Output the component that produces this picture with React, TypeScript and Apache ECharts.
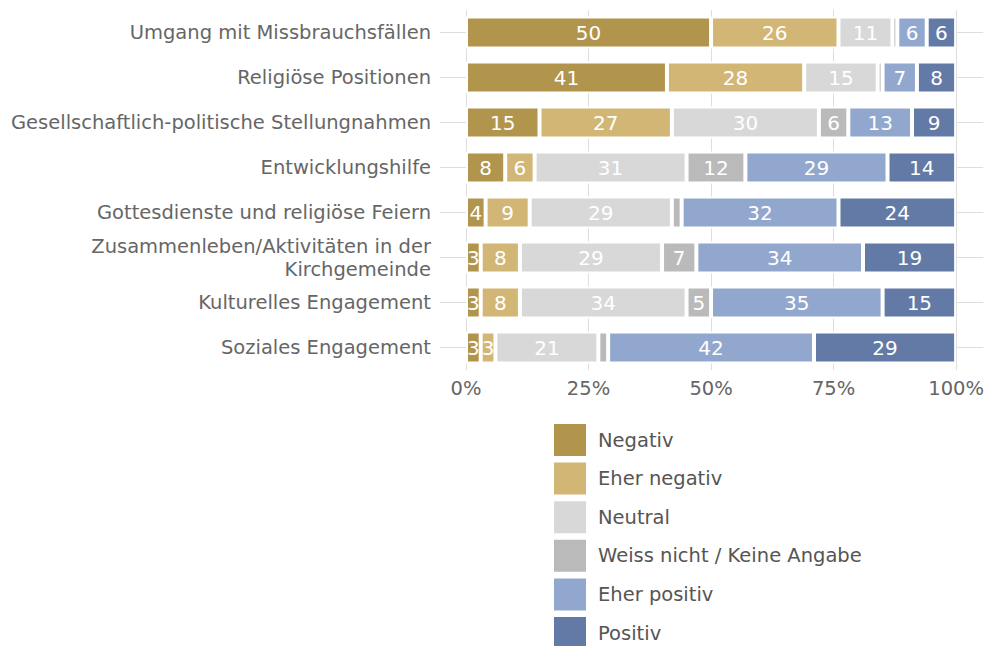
import React, { useEffect, useRef } from "react";
import * as echarts from "echarts";

const categories = [
  "Umgang mit Missbrauchsfällen",
  "Religiöse Positionen",
  "Gesellschaftlich-politische Stellungnahmen",
  "Entwicklungshilfe",
  "Gottesdienste und religiöse Feiern",
  "Zusammenleben/Aktivitäten in der\nKirchgemeinde",
  "Kulturelles Engagement",
  "Soziales Engagement",
];

const seriesNames = [
  "Negativ",
  "Eher negativ",
  "Neutral",
  "Weiss nicht / Keine Angabe",
  "Eher positiv",
  "Positiv",
];

const negativ = [50, 41, 15, 8, 4, 3, 3, 3];
const eherNegativ = [26, 28, 27, 6, 9, 8, 8, 3];
const neutral = [11, 15, 30, 31, 29, 29, 34, 21];
const weissNicht = [1, 1, 6, 12, 2, 7, 5, 2];
const eherPositiv = [6, 7, 13, 29, 32, 34, 35, 42];
const positiv = [6, 8, 9, 14, 24, 19, 15, 29];

const xTicks = [0, 25, 50, 75, 100];

const colors = ["#B2954C", "#D2B675", "#D8D8D8", "#BABABA", "#92A7CD", "#627AA5"];

const FONT = "DejaVu Sans";

export default function App() {
  const ref = useRef<HTMLDivElement>(null);
  useEffect(() => {
    if (!ref.current) return;
    const chart = echarts.init(ref.current, undefined, { renderer: "svg" });
    const values = [negativ, eherNegativ, neutral, weissNicht, eherPositiv, positiv];
    chart.setOption({
      animation: false,
      textStyle: { fontFamily: FONT },
      grid: { left: 466, right: 30, top: 10, height: 360 },
      xAxis: {
        type: "value",
        min: xTicks[0],
        max: xTicks[xTicks.length - 1],
        interval: 25,
        axisLine: { show: false },
        axisTick: { show: false },
        splitLine: { show: true, lineStyle: { color: "#DDDDDD", width: 1 } },
        axisLabel: {
          formatter: (v: number) => v + "%",
          color: "#666666",
          fontSize: 19.5,
          fontFamily: FONT,
          margin: 8,
        },
      },
      yAxis: [
        {
          type: "category",
          data: categories,
          inverse: true,
          axisLine: { show: false },
          axisTick: { show: true, alignWithLabel: true, length: 26, lineStyle: { color: "#DDDDDD" } },
          axisLabel: {
            color: "#666666",
            fontSize: 19.5,
            fontFamily: FONT,
            margin: 35,
            lineHeight: 23,
            align: "right",
          },
        },
        {
          type: "category",
          data: categories,
          inverse: true,
          position: "right",
          axisLine: { show: false },
          axisTick: { show: true, alignWithLabel: true, length: 27, lineStyle: { color: "#DDDDDD" } },
          axisLabel: { show: false },
        },
      ],
      legend: {
        orient: "vertical",
        left: 554,
        top: 424,
        height: 240,
        padding: 0,
        itemWidth: 32,
        itemHeight: 32,
        itemGap: 6.6,
        icon: "rect",
        data: seriesNames,
        itemStyle: { borderWidth: 0 },
        textStyle: { color: "#555555", fontSize: 19.5, fontFamily: FONT, padding: [0, 0, 0, 7] },
      },
      series: seriesNames.map((name, i) => ({
        name,
        type: "bar",
        stack: "total",
        yAxisIndex: 0,
        barWidth: 32,
        data: values[i],
        itemStyle: { color: colors[i], borderColor: "#FFFFFF", borderWidth: 2 },
        label: {
          show: true,
          position: "inside",
          color: "#FFFFFF",
          fontSize: 20,
          fontFamily: FONT,
          formatter: (p: any) => (p.value >= 3 ? String(p.value) : ""),
        },
      })),
    });
    return () => chart.dispose();
  }, []);
  return (
    <div
      ref={ref}
      style={{ position: "absolute", left: 0, top: 0, width: 987, height: 646, background: "#FFFFFF" }}
    />
  );
}
